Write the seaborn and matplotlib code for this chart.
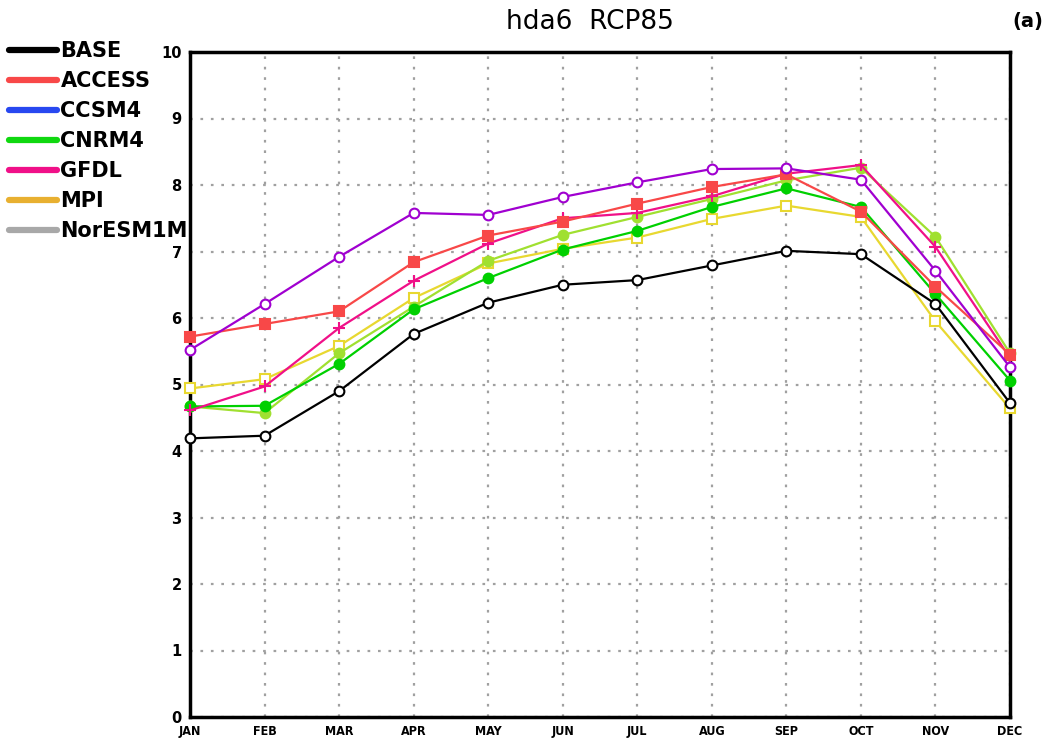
import numpy as np
import pandas as pd
import matplotlib
matplotlib.use("Agg")
import matplotlib.pyplot as plt
from matplotlib.lines import Line2D
import seaborn as sns

months = ["JAN", "FEB", "MAR", "APR", "MAY", "JUN", "JUL", "AUG", "SEP", "OCT", "NOV", "DEC"]
base = [4.19, 4.23, 4.90, 5.76, 6.23, 6.50, 6.57, 6.79, 7.01, 6.96, 6.21, 4.72]
access = [5.72, 5.91, 6.10, 6.84, 7.24, 7.45, 7.72, 7.97, 8.16, 7.60, 6.47, 5.45]
ccsm4 = [5.52, 6.21, 6.92, 7.58, 7.55, 7.82, 8.04, 8.24, 8.25, 8.08, 6.71, 5.26]
cnrm4 = [4.67, 4.68, 5.31, 6.13, 6.60, 7.03, 7.31, 7.67, 7.95, 7.67, 6.36, 5.06]
gfdl = [4.61, 4.97, 5.85, 6.56, 7.12, 7.50, 7.58, 7.83, 8.17, 8.30, 7.07, 5.40]
mpi = [4.94, 5.08, 5.58, 6.30, 6.82, 7.04, 7.21, 7.49, 7.69, 7.52, 5.95, 4.64]
noresm = [4.67, 4.57, 5.47, 6.17, 6.86, 7.25, 7.52, 7.79, 8.07, 8.26, 7.22, 5.47]

legend_labels = ["BASE", "ACCESS", "CCSM4", "CNRM4", "GFDL", "MPI", "NorESM1M"]
legend_colors = ["#000000", "#f84848", "#2848f0", "#10d810", "#f01088", "#e8b030", "#a8a8a8"]

series = {
    "BASE": base, "ACCESS": access, "CCSM4": ccsm4, "CNRM4": cnrm4,
    "GFDL": gfdl, "MPI": mpi, "NorESM1M": noresm,
}
styles = {
    "BASE": dict(color="#000000", marker="o", mfc="white"),
    "ACCESS": dict(color="#f84848", marker="s", mfc="#f84848"),
    "CCSM4": dict(color="#a000d0", marker="o", mfc="white"),
    "CNRM4": dict(color="#00d000", marker="o", mfc="#00d000"),
    "GFDL": dict(color="#f01088", marker="+", mfc="#f01088"),
    "MPI": dict(color="#e8d830", marker="s", mfc="white"),
    "NorESM1M": dict(color="#a0e030", marker="o", mfc="#a0e030"),
}

sns.set_style("white")
plt.rcParams["font.family"] = ["DejaVu Sans"]
plt.rcParams["text.color"] = "black"
plt.rcParams["xtick.color"] = "black"
plt.rcParams["ytick.color"] = "black"

fig = plt.figure(figsize=(10.48, 7.38), dpi=100)
ax = fig.add_axes([190 / 1048, 21 / 738, 820 / 1048, 665 / 738])

x = np.arange(len(months))
draw_order = ["MPI", "NorESM1M", "CNRM4", "GFDL", "ACCESS", "CCSM4", "BASE"]
for name in draw_order:
    st = styles[name]
    df = pd.DataFrame({"m": x, "v": series[name]})
    sns.lineplot(data=df, x="m", y="v", ax=ax, color=st["color"], linewidth=1.6,
                 marker=st["marker"], markersize=7 if st["marker"] != "+" else 9,
                 markerfacecolor=st["mfc"], markeredgecolor=st["color"],
                 markeredgewidth=1.5, legend=False, clip_on=False, zorder=3)

ax.set_xlim(0, 11)
ax.set_ylim(0, 10)
ax.set_xticks(x)
ax.set_xticklabels(months, fontsize=9, fontweight="bold", fontstretch="condensed")
ax.set_yticks(range(0, 11))
ax.set_yticklabels([str(i) for i in range(0, 11)], fontsize=10.5, fontweight="bold")
ax.set_xlabel("")
ax.set_ylabel("")
ax.grid(True, color="#a0a0a0", linestyle=(0, (1.2, 3.5)), linewidth=1.6)
for s in ax.spines.values():
    s.set_linewidth(2.5)
    s.set_color("black")
    s.set_visible(True)
ax.tick_params(axis="both", direction="out", length=4, width=1.2, pad=2, colors="black")

fig.text(0.5630, 1 - 22 / 738, "hda6  RCP85", ha="center", va="center", fontsize=19,
         color="black")
fig.text(1028 / 1048, 1 - 22 / 738, "(a)", ha="center", va="center", fontsize=14,
         fontweight="bold", color="black")

handles = [Line2D([0], [0], color=c, linewidth=4.5) for c in legend_colors]
leg = fig.legend(handles, legend_labels, loc="upper left", bbox_to_anchor=(0.009, 1 - 41 / 738),
                 frameon=False, handlelength=2.3, handletextpad=0.15, labelspacing=0.48,
                 prop={"size": 15, "weight": "bold"}, borderaxespad=0.0, borderpad=0.0)
for t in leg.get_texts():
    t.set_color("black")

fig.savefig("out.png", dpi=100)
